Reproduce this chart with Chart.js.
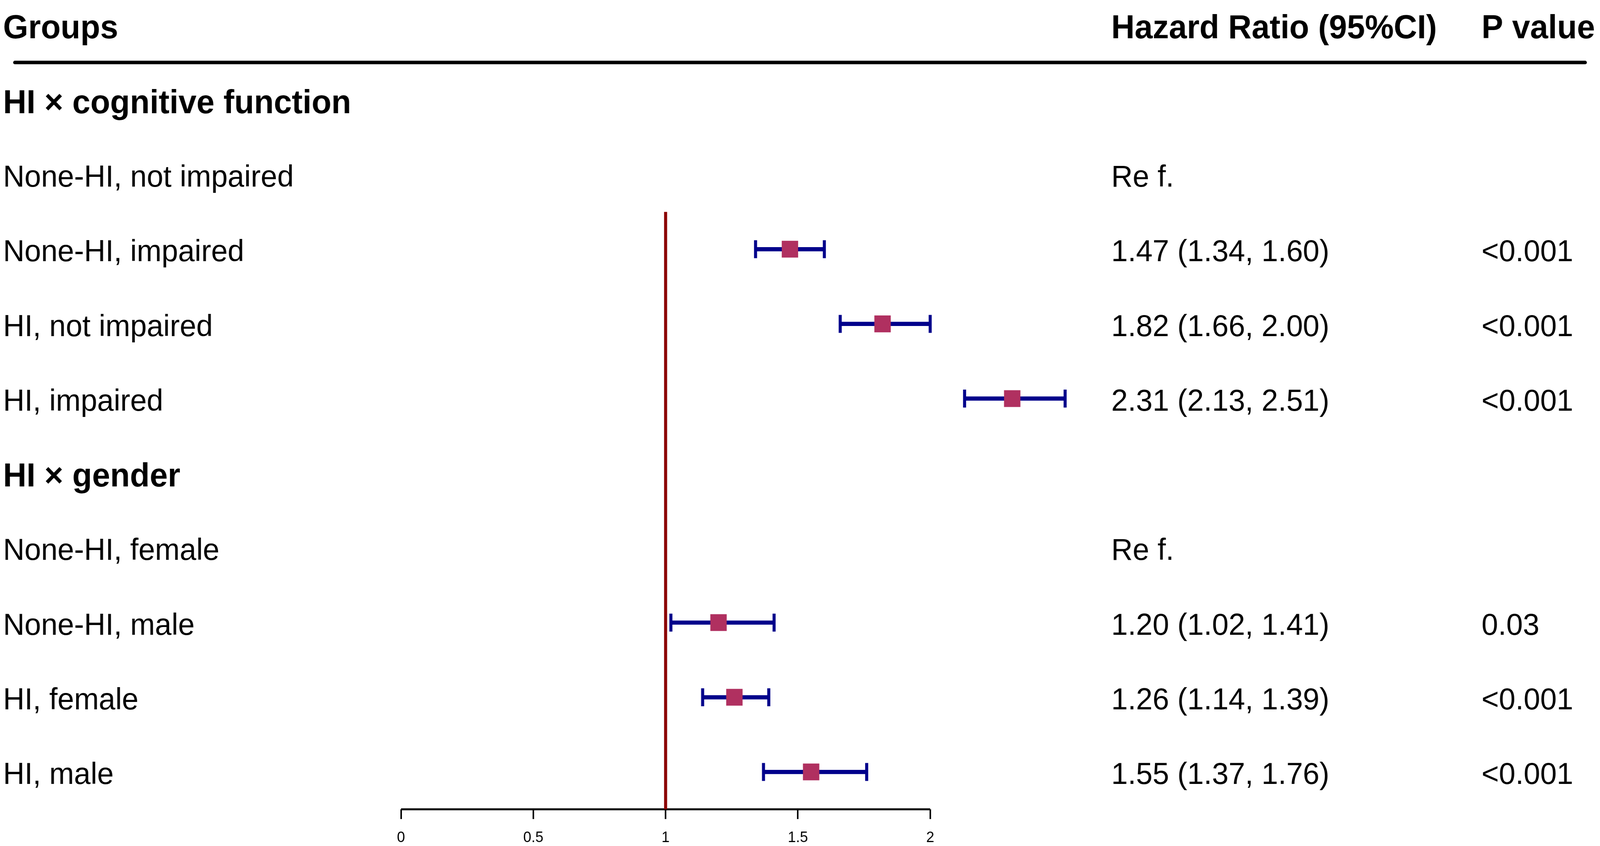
<!DOCTYPE html>
<html>
<head>
<meta charset="utf-8">
<title>Hazard ratio forest plot</title>
<script src="https://cdn.jsdelivr.net/npm/chart.js@4.4.1/dist/chart.umd.min.js"></script>
<style>
  html, body { margin: 0; padding: 0; background: #fff; overflow: hidden; }
  #wrap { width: 4200px; height: 2167px; transform-origin: 0 0; }
</style>
</head>
<body>
<div id="wrap"><canvas id="forest"></canvas></div>
<script>
// table rows, top to bottom (header rows included)
const groups = ['Groups', 'HI \u00d7 cognitive function', 'None-HI, not impaired', 'None-HI, impaired',
  'HI, not impaired', 'HI, impaired', 'HI \u00d7 gender', 'None-HI, female', 'None-HI, male',
  'HI, female', 'HI, male'];
const boldRows = [0, 1, 6];
const refRows = [2, 7];
const hr     = [null, null, null, 1.47, 1.82, 2.31, null, null, 1.20, 1.26, 1.55];
const ciLow  = [null, null, null, 1.34, 1.66, 2.13, null, null, 1.02, 1.14, 1.37];
const ciHigh = [null, null, null, 1.60, 2.00, 2.51, null, null, 1.41, 1.39, 1.76];
const pValues = ['P value', '', '', '<0.001', '<0.001', '<0.001', '', '', '0.03', '<0.001', '<0.001'];
const xTicks = [0, 0.5, 1, 1.5, 2];
const xTickLabels = ['0', '0.5', '1', '1.5', '2'];

const FONT = '"Liberation Sans", Arial, sans-serif';
const NAVY = '#00008B';
const BOX = '#B03060';
const REFLINE = '#8B0000';

const Y_MIN = -0.175, Y_MAX = 10.5;

// the viewport can come out narrower than 4200, so squeeze the drawing to fit
const wrap = document.getElementById('wrap');
wrap.style.transform = `scale(${window.innerWidth / 4200}, ${window.innerHeight / 2167})`;

const rows = groups.map((g, i) => i).filter(i => hr[i] !== null);

function hrLabel(i) {
  if (i === 0) return 'Hazard Ratio (95%CI)';
  if (refRows.includes(i)) return 'Re f.';
  if (hr[i] === null) return '';
  return `${hr[i].toFixed(2)} (${ciLow[i].toFixed(2)}, ${ciHigh[i].toFixed(2)})`;
}

// draws the text columns and the header rule
const tablePlugin = {
  id: 'table',
  afterDraw(chart) {
    const ctx = chart.ctx;
    const y = chart.scales.y;
    const area = chart.chartArea;
    ctx.save();
    const ry = y.getPixelForValue(0.5);
    ctx.strokeStyle = '#000';
    ctx.lineWidth = 9;
    ctx.lineCap = 'round';
    ctx.beginPath();
    ctx.moveTo(area.left + 8, ry);
    ctx.lineTo(area.right - 8, ry);
    ctx.stroke();

    ctx.fillStyle = '#000';
    ctx.textAlign = 'left';
    ctx.textBaseline = 'alphabetic';
    groups.forEach((g, i) => {
      const bold = boldRows.includes(i);
      const py = y.getPixelForValue(i) + (bold ? 34 : 31);
      ctx.font = (bold ? 'bold 85px ' : '78px ') + FONT;
      ctx.fillText(g, 8, py);
      if (i === 0 || !bold) {
        ctx.fillText(hrLabel(i), 2917, py);
        ctx.fillText(pValues[i], 3889, py);
      }
    });
    ctx.restore();
  }
};

new Chart(document.getElementById('forest'), {
  type: 'scatter',
  data: {
    datasets: [
      {
        label: 'Hazard ratio',
        data: rows.map(i => ({ x: hr[i], y: i })),
        pointStyle: 'rect',
        pointRadius: 29,
        pointBackgroundColor: BOX,
        pointBorderColor: BOX,
        pointBorderWidth: 2
      },
      {
        label: 'CI caps',
        data: rows.flatMap(i => [{ x: ciLow[i], y: i }, { x: ciHigh[i], y: i }]),
        pointStyle: 'line',
        pointRotation: 90,
        pointRadius: 23,
        pointBorderColor: NAVY,
        pointBorderWidth: 8
      },
      {
        type: 'bar',
        label: '95% CI',
        indexAxis: 'y',
        data: rows.map(i => ({ x: [ciLow[i], ciHigh[i]], y: i })),
        barThickness: 10,
        backgroundColor: NAVY,
        borderWidth: 0
      },
      {
        type: 'line',
        label: 'HR = 1',
        data: [{ x: 1, y: 2.5 }, { x: 1, y: Y_MAX }],
        borderColor: REFLINE,
        borderWidth: 8,
        pointRadius: 0,
        clip: false
      },
      {
        type: 'line',
        label: 'axis',
        data: [{ x: xTicks[0], y: Y_MAX }, { x: xTicks[xTicks.length - 1], y: Y_MAX }],
        borderColor: '#000',
        borderWidth: 5,
        pointRadius: 0,
        clip: false
      }
    ]
  },
  options: {
    responsive: true,
    maintainAspectRatio: false,
    animation: false,
    layout: { padding: 0 },
    plugins: {
      legend: { display: false },
      tooltip: { enabled: false }
    },
    scales: {
      x: {
        type: 'linear',
        min: -1.471,
        max: 4.487,
        bounds: 'data',
        beginAtZero: false,
        offset: false,
        afterBuildTicks: s => { s.ticks = xTicks.map(v => ({ value: v })); },
        afterFit: s => { s.height = 94; },
        border: { display: false },
        grid: { drawOnChartArea: false, drawTicks: true, tickLength: 25, color: '#000', lineWidth: 4, offset: false },
        ticks: {
          padding: 26,
          color: '#000',
          font: { family: FONT, size: 38 },
          maxRotation: 0,
          autoSkip: false,
          callback: (v, i) => xTickLabels[i]
        }
      },
      y: {
        type: 'linear',
        reverse: true,
        min: Y_MIN,
        max: Y_MAX,
        bounds: 'data',
        offset: false,
        display: false,
        grid: { offset: false }
      }
    }
  },
  plugins: [tablePlugin]
});
</script>
</body>
</html>
